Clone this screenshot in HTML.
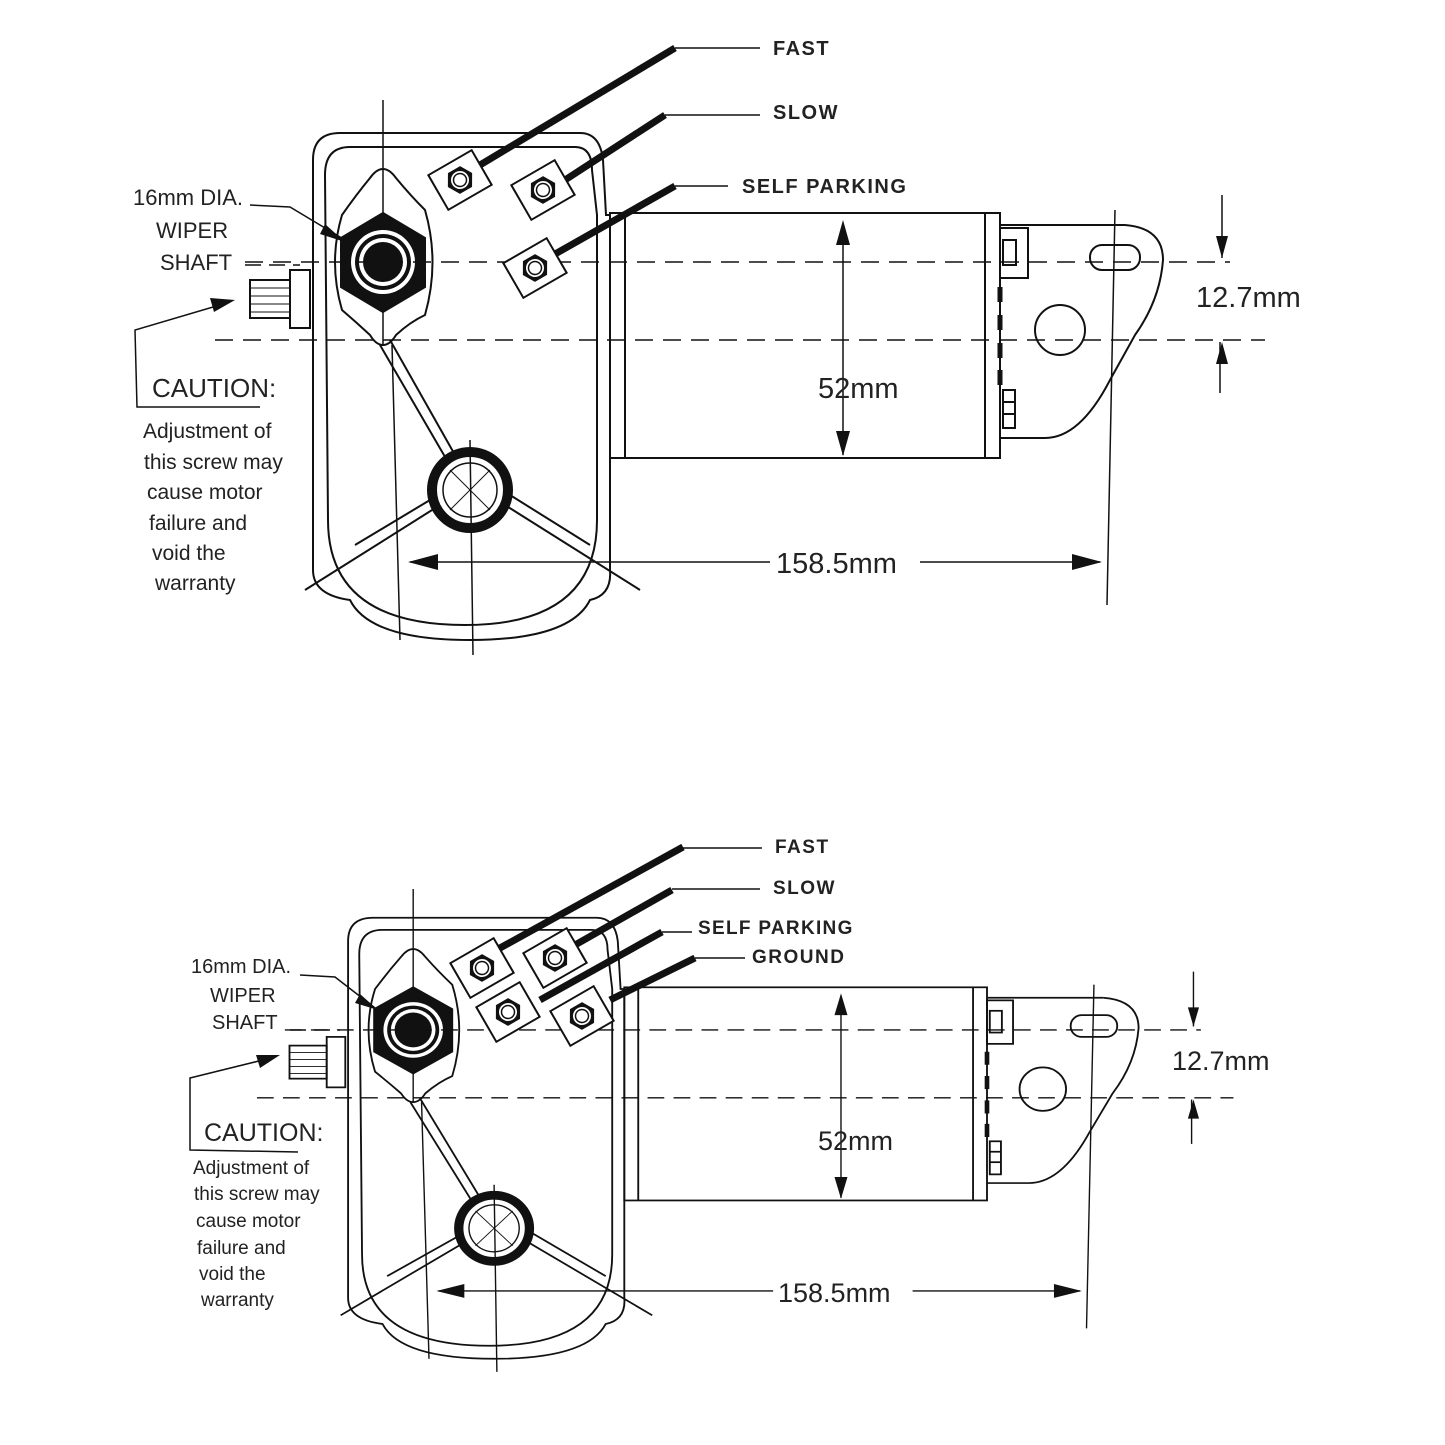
<!DOCTYPE html>
<html><head><meta charset="utf-8"><style>
html,body{margin:0;padding:0;background:#fff;}
svg{display:block;}
text{font-family:"Liberation Sans",sans-serif;fill:#222;}
.lb{font-weight:600;}
</style></head><body>
<svg width="1445" height="1445" viewBox="0 0 1445 1445" xmlns="http://www.w3.org/2000/svg">
<defs>
<g id="body" fill="none" stroke="#111" stroke-width="2">
  <path d="M313,160 Q313,133 340,133 L580,133 Q600,133 603,160 L606,215 L610,215 L610,570 Q612,595 590,600 Q570,640 470,640 Q370,640 350,600 Q313,595 313,570 Z"/>
  <path d="M325,175 Q325,147 350,147 L575,147 Q592,147 592,170 L597,215 L597,520 Q597,625 465,625 Q328,625 328,520 Z"/>
  <path d="M370,178 Q383,160 396,178 Q410,195 425,210 Q440,262 425,315 Q410,322 396,335 Q390,345 383,345 Q376,345 370,335 Q356,322 342,310 Q328,262 342,215 Q356,195 370,178 Z"/>
  <line x1="383" y1="100" x2="383" y2="345" stroke-width="1.5"/>
  <line x1="392" y1="345" x2="400" y2="640" stroke-width="1.5"/>
  <line x1="470" y1="440" x2="473" y2="655" stroke-width="1.5"/>
  <line x1="390" y1="340" x2="455" y2="455"/>
  <line x1="380" y1="345" x2="448" y2="462"/>
  <line x1="305" y1="590" x2="440" y2="505"/>
  <line x1="355" y1="545" x2="430" y2="500"/>
  <line x1="640" y1="590" x2="505" y2="505"/>
  <line x1="590" y1="545" x2="510" y2="495"/>
  <polygon points="383,213 425,238 425,287 383,312 341,287 341,238" fill="#111"/>
  <circle cx="383" cy="262" r="32" fill="#fff" stroke="none"/>
  <circle cx="383" cy="262" r="28" fill="#111" stroke="none"/>
  <circle cx="383" cy="262" r="24" fill="#fff" stroke="none"/>
  <circle cx="383" cy="262" r="20" fill="#111" stroke="none"/>
  <circle cx="470" cy="490" r="38" stroke-width="10"/>
  <circle cx="470" cy="490" r="27" stroke-width="1.5"/>
  <line x1="450" y1="470" x2="490" y2="510" stroke-width="1"/>
  <line x1="490" y1="470" x2="450" y2="510" stroke-width="1"/>
  <rect x="610" y="213" width="390" height="245"/>
  <line x1="625" y1="215" x2="625" y2="458"/>
  <line x1="985" y1="213" x2="985" y2="458"/>
  <line x1="1000" y1="225" x2="1125" y2="225"/>
  <path d="M1125,225 Q1163,228 1163,260 Q1160,300 1135,335 L1110,380 Q1080,438 1045,438 L1000,438"/>
  <rect x="1000" y="228" width="28" height="50"/>
  <rect x="1003" y="240" width="13" height="25"/>
  <rect x="1003" y="390" width="12" height="38"/>
  <line x1="1003" y1="402" x2="1015" y2="402"/><line x1="1003" y1="414" x2="1015" y2="414"/>
  <path d="M1000,287 v15 M1000,315 v15 M1000,343 v15 M1000,370 v15" stroke-width="5"/>
  <circle cx="1060" cy="330" r="25"/>
  <rect x="1090" y="245" width="50" height="25" rx="12"/>
  <line x1="1115" y1="210" x2="1107" y2="605" stroke-width="1.5"/>
  <line x1="245" y1="262" x2="1230" y2="262" stroke-dasharray="18,10" stroke-width="1.5"/>
  <line x1="215" y1="340" x2="1265" y2="340" stroke-dasharray="18,10" stroke-width="1.5"/>
  <rect x="250" y="280" width="40" height="38"/>
  <path d="M250,288h40M250,296h40M250,304h40M250,312h40" stroke-width="1"/>
  <rect x="290" y="270" width="20" height="58"/>
  <line x1="843" y1="225" x2="843" y2="455" stroke-width="1.5"/>
  <path d="M843,220 l-7,25 h14 z M843,456 l-7,-25 h14 z" fill="#111" stroke="none"/>
  <line x1="410" y1="562" x2="770" y2="562" stroke-width="1.5"/>
  <line x1="920" y1="562" x2="1100" y2="562" stroke-width="1.5"/>
  <path d="M408,562 l30,-8 v16 z M1102,562 l-30,-8 v16 z" fill="#111" stroke="none"/>
  <line x1="1222" y1="195" x2="1222" y2="258" stroke-width="1.5"/>
  <path d="M1222,258 l-6,-22 h12 z M1222,342 l-6,22 h12 z" fill="#111" stroke="none"/>
  <line x1="1220" y1="342" x2="1220" y2="393" stroke-width="1.5"/>
</g>
<g id="term">
  <rect x="-25" y="-20" width="50" height="40" fill="#fff" stroke="#111" stroke-width="2"/>
  <polygon points="-14,0 -7,-12 7,-12 14,0 7,12 -7,12" fill="#111"/>
  <circle r="9" fill="#fff"/><circle r="6.5" fill="none" stroke="#111" stroke-width="1.5"/>
</g>
</defs>

<use href="#body"/>
<g stroke="#111" fill="none">
<line x1="480" y1="165" x2="675" y2="48" stroke-width="7"/>
<line x1="675" y1="48" x2="760" y2="48" stroke-width="1.5"/>
<line x1="565" y1="180" x2="665" y2="115" stroke-width="7"/>
<line x1="665" y1="115" x2="760" y2="115" stroke-width="1.5"/>
<line x1="548" y1="258" x2="675" y2="186" stroke-width="7"/>
<line x1="675" y1="186" x2="728" y2="186" stroke-width="1.5"/>
</g>
<use href="#term" transform="translate(460,180) rotate(-30)"/>
<use href="#term" transform="translate(543,190) rotate(-30)"/>
<use href="#term" transform="translate(535,268) rotate(-30)"/>
<g stroke="#111" fill="none" stroke-width="1.5">
<polyline points="250,205 290,207 345,240" />
<line x1="245" y1="265" x2="300" y2="265" stroke-dasharray="16,8"/>
<polyline points="260,407 137,407 135,330 230,302"/>
</g>
<path d="M345,242 l-20,-18 l-5,10 z M235,300 l-25,-2 l4,14 z" fill="#111"/>
<text class="lb" x="773" y="55" font-size="20" letter-spacing="1.5">FAST</text>
<text class="lb" x="773" y="119" font-size="20" letter-spacing="1.5">SLOW</text>
<text class="lb" x="742" y="193" font-size="20" letter-spacing="1.5">SELF PARKING</text>
<text x="133" y="205" font-size="22">16mm DIA.</text>
<text x="156" y="238" font-size="22">WIPER</text>
<text x="160" y="270" font-size="22">SHAFT</text>
<text x="152" y="397" font-size="26">CAUTION:</text>
<g font-size="21"><text x="143" y="438">Adjustment of</text><text x="144" y="469">this screw may</text><text x="147" y="499">cause motor</text><text x="149" y="530">failure and</text><text x="152" y="560">void the</text><text x="155" y="590">warranty</text></g>
<text x="818" y="398" font-size="29">52mm</text>
<text x="776" y="573" font-size="29">158.5mm</text>
<text x="1196" y="307" font-size="29">12.7mm</text>

<use href="#body" transform="translate(57,802) scale(0.93,0.87)"/>
<g stroke="#111" fill="none">
<line x1="500" y1="948" x2="683" y2="847" stroke-width="7"/>
<line x1="683" y1="848" x2="762" y2="848" stroke-width="1.5"/>
<line x1="575" y1="945" x2="672" y2="890" stroke-width="7"/>
<line x1="672" y1="889" x2="760" y2="889" stroke-width="1.5"/>
<line x1="540" y1="1000" x2="662" y2="932" stroke-width="7"/>
<line x1="662" y1="932" x2="692" y2="932" stroke-width="1.5"/>
<line x1="610" y1="1000" x2="695" y2="958" stroke-width="7"/>
<line x1="695" y1="958" x2="745" y2="958" stroke-width="1.5"/>
</g>
<use href="#term" transform="translate(482,968) rotate(-30)"/>
<use href="#term" transform="translate(555,958) rotate(-30)"/>
<use href="#term" transform="translate(508,1012) rotate(-30)"/>
<use href="#term" transform="translate(582,1016) rotate(-30)"/>
<g stroke="#111" fill="none" stroke-width="1.5">
<polyline points="300,975 335,977 375,1008"/>
<line x1="290" y1="1030" x2="340" y2="1030" stroke-dasharray="16,8"/>
<polyline points="298,1152 190,1150 190,1078 275,1057"/>
</g>
<path d="M378,1010 l-18,-16 l-5,9 z M280,1055 l-24,0 l4,13 z" fill="#111"/>
<text class="lb" x="775" y="853" font-size="19" letter-spacing="1.5">FAST</text>
<text class="lb" x="773" y="894" font-size="19" letter-spacing="1.5">SLOW</text>
<text class="lb" x="698" y="934" font-size="19" letter-spacing="1.3">SELF PARKING</text>
<text class="lb" x="752" y="963" font-size="19" letter-spacing="1.5">GROUND</text>
<text x="191" y="973" font-size="20">16mm DIA.</text>
<text x="210" y="1002" font-size="20">WIPER</text>
<text x="212" y="1029" font-size="20">SHAFT</text>
<text x="204" y="1141" font-size="25">CAUTION:</text>
<g font-size="19"><text x="193" y="1174">Adjustment of</text><text x="194" y="1200">this screw may</text><text x="196" y="1227">cause motor</text><text x="197" y="1254">failure and</text><text x="199" y="1280">void the</text><text x="201" y="1306">warranty</text></g>
<text x="818" y="1150" font-size="27">52mm</text>
<text x="778" y="1302" font-size="27">158.5mm</text>
<text x="1172" y="1070" font-size="27">12.7mm</text>
</svg>
</body></html>
